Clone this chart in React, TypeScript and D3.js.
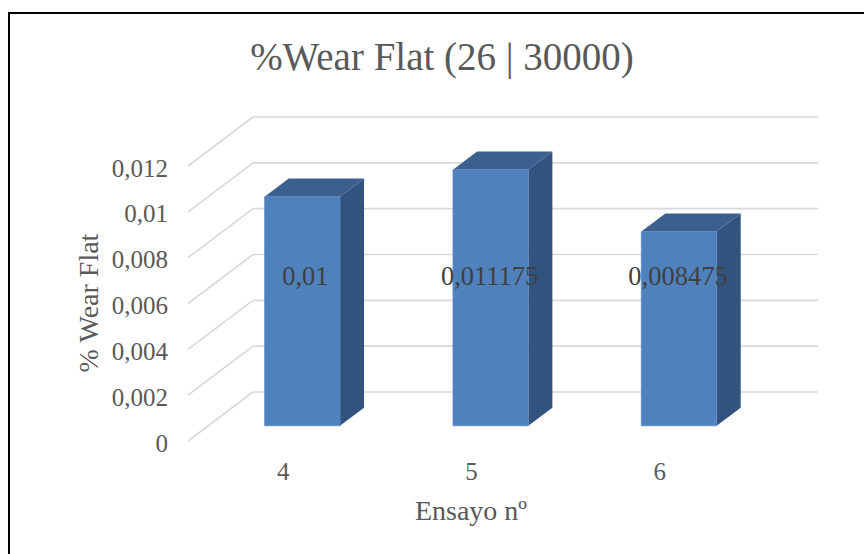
import React from "react";
import * as d3 from "d3";

const categories = ["4", "5", "6"];
const values = [0.01, 0.011175, 0.008475];
const valueLabels = ["0,01", "0,011175", "0,008475"];
const yTicks = [0, 0.002, 0.004, 0.006, 0.008, 0.01, 0.012];
const yTickLabels = ["0", "0,002", "0,004", "0,006", "0,008", "0,01", "0,012"];
const title = "%Wear Flat (26 | 30000)";
const yTitle = "% Wear Flat";
const xTitle = "Ensayo nº";

const W = 864;
const H = 554;
const DX = 65;
const DY = -49;
const D1 = 0.31;
const D2 = 0.68;
const FONT = "'Liberation Serif', 'DejaVu Serif', serif";

export default function App() {
  const x = d3
    .scaleBand<string>()
    .domain(categories)
    .range([188, 753])
    .paddingInner(0.6)
    .paddingOuter(0.3);
  const xc = d3.scaleBand<string>().domain(categories).range([188, 753]);
  const y = d3.scaleLinear().domain([0, 0.012]).range([441, 166]);

  const P = (px: number, v: number, d: number) => [px + d * DX, y(v) + d * DY];
  const poly = (pts: number[][]) => pts.map((p) => p.join(",")).join(" ");

  const labelY = (y(0) + y(0.012)) / 2 + 0.5 * DY - 3;

  return (
    <svg
      width={W}
      height={H}
      style={{ position: "absolute", left: 0, top: 0 }}
      xmlns="http://www.w3.org/2000/svg"
    >
      <rect x={0} y={0} width={W} height={H} fill="#ffffff" />
      <rect x={9} y={13} width={W + 20} height={H + 20} fill="#ffffff" stroke="#000000" strokeWidth={2} />
      <text x={442} y={70} textAnchor="middle" fontFamily={FONT} fontSize={39} fill="#595959">
        {title}
      </text>
      {yTicks.map((t, i) => {
        const f = P(188, t, 0);
        const b = P(188, t, 1);
        return (
          <g key={"g" + i}>
            <line x1={f[0]} y1={f[1]} x2={b[0]} y2={b[1]} stroke="#D9D9D9" strokeWidth={1.6} />
            <line x1={b[0]} y1={b[1]} x2={753 + DX} y2={b[1]} stroke="#D9D9D9" strokeWidth={1.6} />
            <text
              x={168}
              y={f[1] + 2}
              textAnchor="end"
              dominantBaseline="central"
              fontFamily={FONT}
              fontSize={25}
              fill="#595959"
            >
              {yTickLabels[i]}
            </text>
          </g>
        );
      })}
      {categories.map((c, i) => {
        const x0 = x(c)!;
        const x1 = x0 + x.bandwidth();
        const v = values[i];
        const front = [P(x0, 0, D1), P(x1, 0, D1), P(x1, v, D1), P(x0, v, D1)];
        const side = [P(x1, 0, D1), P(x1, 0, D2), P(x1, v, D2), P(x1, v, D1)];
        const top = [P(x0, v, D1), P(x1, v, D1), P(x1, v, D2), P(x0, v, D2)];
        const cx = x0 + x.bandwidth() / 2 + D1 * DX;
        return (
          <g key={"b" + c}>
            <polygon points={poly(side)} fill="#32537D" />
            <polygon points={poly(top)} fill="#3B5F8E" />
            <polygon points={poly(front)} fill="#4F81BD" stroke="#5A8AC4" strokeWidth={0.8} />
            <text
              x={cx + (i === 0 ? 3 : -1)}
              y={labelY}
              textAnchor="middle"
              dominantBaseline="central"
              fontFamily={FONT}
              fontSize={26.5}
              fill="#404040"
            >
              {valueLabels[i]}
            </text>
          </g>
        );
      })}
      {categories.map((c) => (
        <text
          key={"c" + c}
          x={xc(c)! + xc.bandwidth() / 2 + 1}
          y={471}
          textAnchor="middle"
          dominantBaseline="central"
          fontFamily={FONT}
          fontSize={25}
          fill="#595959"
        >
          {c}
        </text>
      ))}
      <text x={471} y={510} textAnchor="middle" dominantBaseline="central" fontFamily={FONT} fontSize={28} fill="#595959">
        {xTitle}
      </text>
      <text
        transform={`translate(88,303) rotate(-90)`}
        textAnchor="middle"
        dominantBaseline="central"
        fontFamily={FONT}
        fontSize={28}
        fill="#595959"
      >
        {yTitle}
      </text>
    </svg>
  );
}
